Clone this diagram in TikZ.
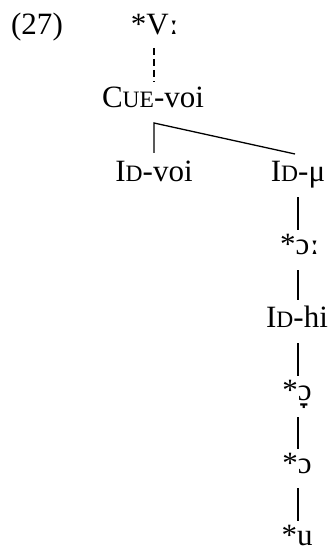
\documentclass[tikz,border=0pt]{standalone}
\usepackage{fontspec}
\setmainfont{Liberation Serif}
\newfontfamily\ipa{DejaVu Serif}
\usetikzlibrary{calc}
% small capitals faked by a reduced size
\newcommand\smc[1]{{\fontsize{23.5pt}{23.5pt}\selectfont #1}}
% length mark and lowering diacritic from DejaVu Serif
\newcommand\lng{{\ipa ː}}
\newcommand\lowr{{\ipa ̞}}
\begin{document}
\begin{tikzpicture}[x=1pt,y=-1pt,
  lbl/.style={inner sep=0pt, anchor=base, font=\fontsize{31pt}{31pt}\selectfont},
  edge/.style={line width=1.3pt},
  dashedge/.style={line width=1.9pt, dash pattern=on 7pt off 4pt}]
\useasboundingbox (0,0) rectangle (335,548);
% labels
\node[lbl] (ex)   at (37,35)   {(27)};
\node[lbl] (root) at (155,35)  {*V\lng};
\node[lbl] (cue)  at (153,108) {C\smc{UE}-voi};
\node[lbl] (idvoi) at (154,181) {I\smc{D}-voi};
\node[lbl] (idmu) at (298,181) {I\smc{D}-μ};
\node[lbl] (oo)   at (300,254) {*ɔ\lng};
\node[lbl] (idhi) at (297,327) {I\smc{D}-hi};
\node[lbl] (ol)   at (297,400) {*ɔ\lowr};
\node[lbl] (o)    at (297,473) {*ɔ};
\node[lbl] (u)    at (297,545) {*u};
% connectors
\draw[dashedge] ($(root.base)+(-1,13)$) -- ($(cue.base)+(1,-26)$);
\coordinate (fork) at ($(cue.base)+(1,15)$);
\draw[edge] ($(idvoi.base)+(0,-28)$) -- (fork) -- ($(idmu.base)+(-3,-27)$);
\draw[edge] ($(idmu.base)+(0,16)$) -- ($(oo.base)+(-2,-24)$);
\draw[edge] ($(oo.base)+(-2,16)$) -- ($(idhi.base)+(1,-27)$);
\draw[edge] ($(idhi.base)+(1,16)$) -- ($(ol.base)+(1,-24)$);
\draw[edge] ($(ol.base)+(1,17)$) -- ($(o.base)+(1,-24)$);
\draw[edge] ($(o.base)+(1,15)$) -- ($(u.base)+(1,-24)$);
\end{tikzpicture}
\end{document}
